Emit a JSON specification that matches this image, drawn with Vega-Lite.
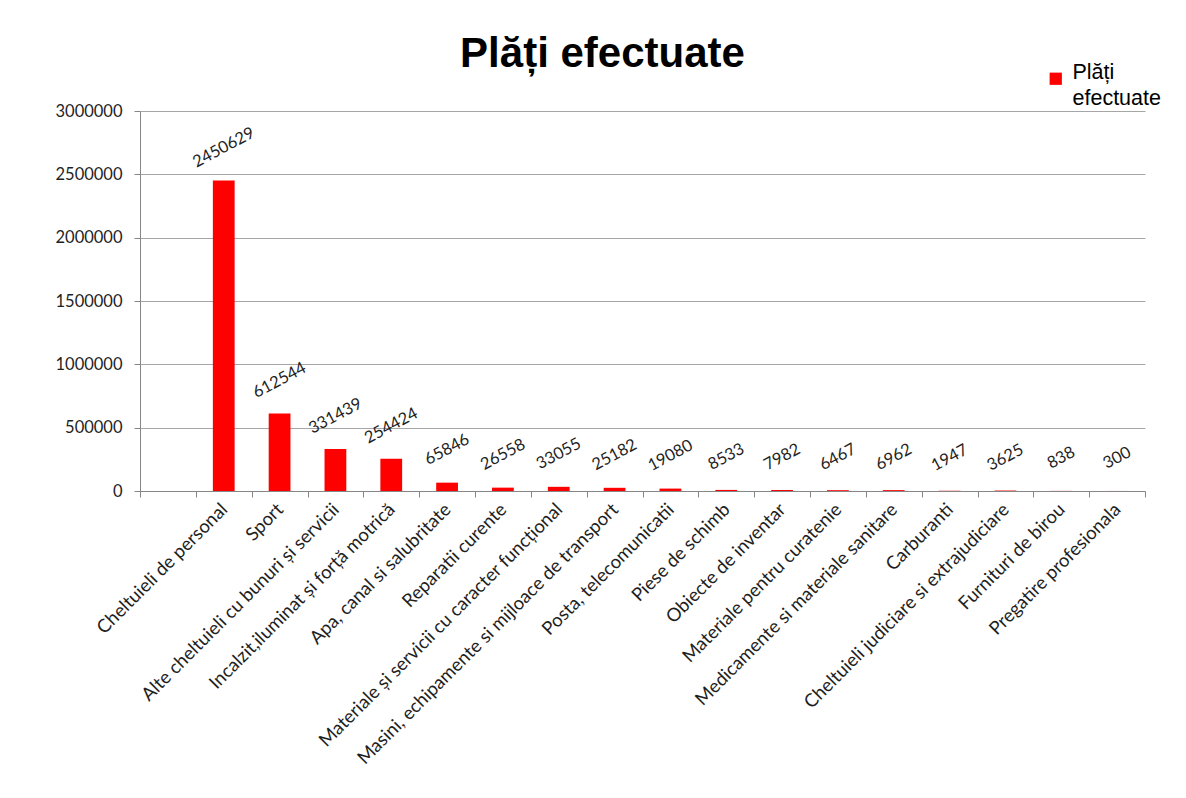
{
  "$schema": "https://vega.github.io/schema/vega-lite/v6.json",
  "width": 1005,
  "height": 380,
  "autosize": {"type": "none"},
  "padding": {"left": 140, "top": 111, "right": 41, "bottom": 307},
  "background": "white",
  "config": {
    "view": {"stroke": null},
    "font": "Lato",
    "style": {"guide-label": {"lineHeight": 26}}
  },
  "title": {
    "text": "Plăți efectuate",
    "font": "Liberation Sans",
    "fontSize": 42,
    "fontWeight": "bold",
    "color": "#000000",
    "anchor": "middle",
    "dx": -40,
    "dy": 41,
    "offset": 0,
    "baseline": "alphabetic"
  },
  "data": {
    "values": [
      {"categorie": " ", "valoare": null},
      {"categorie": "Cheltuieli de personal", "valoare": 2450629},
      {"categorie": "Sport", "valoare": 612544},
      {"categorie": "Alte cheltuieli cu bunuri și servicii", "valoare": 331439},
      {"categorie": "Incalzit,iluminat  și forță motrică", "valoare": 254424},
      {"categorie": "Apa, canal si salubritate", "valoare": 65846},
      {"categorie": "Reparatii curente", "valoare": 26558},
      {"categorie": "Materiale și servicii cu caracter funcțional", "valoare": 33055},
      {"categorie": "Masini, echipamente si mijloace de transport", "valoare": 25182},
      {"categorie": "Posta, telecomunicatii", "valoare": 19080},
      {"categorie": "Piese de schimb", "valoare": 8533},
      {"categorie": "Obiecte de inventar", "valoare": 7982},
      {"categorie": "Materiale pentru curatenie", "valoare": 6467},
      {"categorie": "Medicamente si materiale sanitare", "valoare": 6962},
      {"categorie": "Carburanti", "valoare": 1947},
      {"categorie": "Cheltuieli judiciare si extrajudiciare", "valoare": 3625},
      {"categorie": "Furnituri de birou", "valoare": 838},
      {"categorie": "Pregatire profesionala", "valoare": 300}
    ]
  },
  "layer": [
    {
      "mark": {"type": "bar", "color": "#ff0000", "width": {"band": 0.39}},
      "encoding": {
        "x": {
          "field": "categorie",
          "type": "nominal",
          "sort": null,
          "scale": {
            "domain": [" ", "Cheltuieli de personal", "Sport", "Alte cheltuieli cu bunuri și servicii", "Incalzit,iluminat  și forță motrică", "Apa, canal si salubritate", "Reparatii curente", "Materiale și servicii cu caracter funcțional", "Masini, echipamente si mijloace de transport", "Posta, telecomunicatii", "Piese de schimb", "Obiecte de inventar", "Materiale pentru curatenie", "Medicamente si materiale sanitare", "Carburanti", "Cheltuieli judiciare si extrajudiciare", "Furnituri de birou", "Pregatire profesionala"],
            "paddingInner": 0,
            "paddingOuter": 0
          },
          "axis": {
            "title": null,
            "tickBand": "extent",
            "labelAngle": -45,
            "labelAlign": "right",
            "labelBaseline": "middle",
            "tickSize": 6,
            "labelPadding": 9,
            "labelFont": "Lato",
            "labelFontSize": 18.5,
            "labelColor": "#1f1f1f",
            "labelLimit": 500,
            "labelOverlap": false,
            "domainColor": "#868686",
            "tickColor": "#868686",
            "grid": false
          }
        },
        "y": {
          "field": "valoare",
          "type": "quantitative",
          "scale": {"domain": [0, 3000000], "nice": false},
          "axis": {
            "title": null,
            "values": [0, 500000, 1000000, 1500000, 2000000, 2500000, 3000000],
            "format": "d",
            "grid": true,
            "gridColor": "#a6a6a6",
            "domainColor": "#868686",
            "tickColor": "#868686",
            "tickSize": 6,
            "labelPadding": 12,
            "labelFont": "Lato",
            "labelFontSize": 16.5,
            "labelColor": "#1f1f1f"
          }
        },
        "fill": {
          "datum": "Plăți efectuate",
          "type": "nominal",
          "scale": {"range": ["#ff0000"]},
          "legend": {
            "orient": "none",
            "legendX": 905,
            "legendY": -43,
            "title": null,
            "padding": 0,
            "symbolType": "square",
            "symbolSize": 150,
            "symbolStrokeWidth": 0,
            "labelFont": "Liberation Sans",
            "labelFontSize": 21.5,
            "labelColor": "#000000",
            "labelBaseline": "alphabetic",
            "labelOffset": 6,
            "labelExpr": "['Plăți', 'efectuate']"
          }
        }
      }
    },
    {
      "mark": {
        "type": "text",
        "angle": 332,
        "align": "center",
        "baseline": "middle",
        "yOffset": -33,
        "font": "Lato",
        "fontSize": 16.5,
        "color": "#1f1f1f"
      },
      "encoding": {
        "x": {"field": "categorie", "type": "nominal", "sort": null},
        "y": {"field": "valoare", "type": "quantitative"},
        "text": {"field": "valoare", "type": "quantitative", "format": "d"}
      }
    }
  ]
}
